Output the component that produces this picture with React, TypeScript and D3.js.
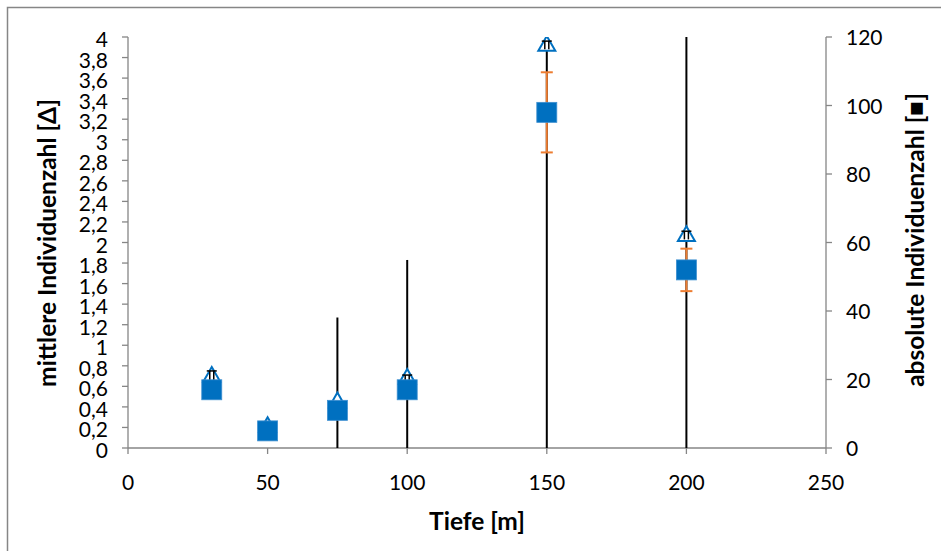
import React from "react";
import * as d3 from "d3";

const depths = [30, 50, 75, 100, 150, 200];
const meanCount = [0.7, 0.21, 0.45, 0.68, 3.92, 2.07];
const meanErrSmall = [0.05, 0.0, 0.0, 0.03, 0.04, 0.04];
const meanErrLarge = [0, 0, 0.82, 1.15, 4.3, 2.6];
const absCount = [17, 5, 11, 17, 98, 52];
const absErr = [0, 0, 0, 0, 11.7, 6.2];
const xTicks = [0, 50, 100, 150, 200, 250];
const leftTicks = d3.range(0, 4.0001, 0.2).map((v) => +v.toFixed(1));
const rightTicks = [0, 20, 40, 60, 80, 100, 120];

const W = 941;
const H = 551;
const m = { left: 128, right: 826, top: 37, bottom: 448 };

export default function App() {
  const x = d3.scaleLinear().domain([0, 250]).range([m.left, m.right]);
  const yL = d3.scaleLinear().domain([0, 4]).range([m.bottom, m.top]);
  const yR = d3.scaleLinear().domain([0, 120]).range([m.bottom, m.top]);
  const axisColor = "#868686";
  const font = "Lato, 'Liberation Sans', sans-serif";
  const blue = "#0070C0";
  const orange = "#ED7D31";
  const tickFs = 21;
  const titleFs = 24.5;
  const fmt = (v: number) => (v === 0 ? "0" : String(v).replace(".", ","));
  const tri = (cx: number, cy: number, s: number) => {
    const h = s * 0.87;
    return `M${cx},${cy - h * 0.62} L${cx + s / 2},${cy + h * 0.38} L${cx - s / 2},${cy + h * 0.38} Z`;
  };
  return (
    <svg width={W} height={H} style={{ position: "absolute", left: 0, top: 0 }}>
      <defs>
        <clipPath id="plot">
          <rect x={m.left - 10} y={m.top} width={m.right - m.left + 20} height={m.bottom - m.top} />
        </clipPath>
      </defs>
      <rect x={0} y={0} width={W} height={H} fill="white" />
      <rect x={7.5} y={7.5} width={W + 20} height={H + 20} fill="none" stroke={axisColor} strokeWidth={1.5} />

      {/* axes */}
      <line x1={m.left} x2={m.right} y1={m.bottom} y2={m.bottom} stroke={axisColor} strokeWidth={1.3} />
      <line x1={m.left} x2={m.left} y1={m.top} y2={m.bottom} stroke={axisColor} strokeWidth={1.3} />
      <line x1={m.right} x2={m.right} y1={m.top} y2={m.bottom} stroke={axisColor} strokeWidth={1.3} />
      {xTicks.map((t) => (
        <g key={"x" + t}>
          <line x1={x(t)} x2={x(t)} y1={m.bottom} y2={m.bottom + 6} stroke={axisColor} strokeWidth={1.3} />
          <text x={x(t)} y={490} textAnchor="middle" fontFamily={font} fontSize={tickFs} fill="#000">
            {t}
          </text>
        </g>
      ))}
      {leftTicks.map((t) => (
        <g key={"l" + t}>
          <line x1={m.left - 6} x2={m.left} y1={yL(t)} y2={yL(t)} stroke={axisColor} strokeWidth={1.3} />
          <text x={108} y={yL(t) + 10} textAnchor="end" fontFamily={font} fontSize={tickFs} fill="#000">
            {fmt(t)}
          </text>
        </g>
      ))}
      {rightTicks.map((t) => (
        <g key={"r" + t}>
          <line x1={m.right} x2={m.right + 6} y1={yR(t)} y2={yR(t)} stroke={axisColor} strokeWidth={1.3} />
          <text x={846} y={yR(t) + 8} textAnchor="start" fontFamily={font} fontSize={tickFs} fill="#000">
            {t}
          </text>
        </g>
      ))}
      <text x={477} y={530} textAnchor="middle" fontFamily={font} fontSize={titleFs} fontWeight="bold">
        Tiefe [m]
      </text>
      <text
        transform={`translate(56,243) rotate(-90)`}
        textAnchor="middle"
        fontFamily={font}
        fontSize={titleFs}
        fontWeight="bold"
      >
        mittlere Individuenzahl [Δ]
      </text>
      <text
        transform={`translate(924,240) rotate(-90)`}
        textAnchor="middle"
        fontFamily={font}
        fontSize={titleFs}
        fontWeight="bold"
      >
        absolute Individuenzahl [■]
      </text>

      <g clipPath="url(#plot)">
        {/* large black error bars of mean series */}
        {depths.map((d, i) =>
          meanErrLarge[i] > 0 ? (
            <line
              key={"bl" + i}
              x1={x(d)}
              x2={x(d)}
              y1={yL(meanCount[i] - meanErrLarge[i])}
              y2={yL(meanCount[i] + meanErrLarge[i])}
              stroke="#000"
              strokeWidth={2}
            />
          ) : null
        )}
        {/* orange error bars of absolute series */}
        {depths.map((d, i) =>
          absErr[i] > 0 ? (
            <g key={"or" + i} stroke={orange} strokeWidth={2}>
              <line x1={x(d)} x2={x(d)} y1={yR(absCount[i] - absErr[i])} y2={yR(absCount[i] + absErr[i])} />
              <line x1={x(d) - 6} x2={x(d) + 6} y1={yR(absCount[i] - absErr[i])} y2={yR(absCount[i] - absErr[i])} />
              <line x1={x(d) - 6} x2={x(d) + 6} y1={yR(absCount[i] + absErr[i])} y2={yR(absCount[i] + absErr[i])} />
            </g>
          ) : null
        )}
        {/* triangles */}
        {depths.map((d, i) => (
          <path
            key={"t" + i}
            d={tri(x(d), yL(meanCount[i]), 17)}
            fill="white"
            stroke={blue}
            strokeWidth={2}
            strokeLinejoin="miter"
          />
        ))}
        {/* small black error bars with caps */}
        {depths.map((d, i) =>
          meanErrSmall[i] > 0 ? (
            <g key={"bs" + i} stroke="#000" strokeWidth={1.5}>
              <line x1={x(d) - 2} x2={x(d) - 2} y1={yL(meanCount[i] - meanErrSmall[i])} y2={yL(meanCount[i] + meanErrSmall[i])} />
              <line x1={x(d) + 2} x2={x(d) + 2} y1={yL(meanCount[i] - meanErrSmall[i])} y2={yL(meanCount[i] + meanErrSmall[i])} />
              <line x1={x(d) - 5} x2={x(d) + 5} y1={yL(meanCount[i] + meanErrSmall[i])} y2={yL(meanCount[i] + meanErrSmall[i])} />
            </g>
          ) : null
        )}
        {/* squares */}
        {depths.map((d, i) => (
          <rect
            key={"s" + i}
            x={x(d) - 10}
            y={yR(absCount[i]) - 10}
            width={20}
            height={20}
            fill={blue}
            stroke="#3d8fd0"
            strokeWidth={0.8}
          />
        ))}
      </g>
    </svg>
  );
}
